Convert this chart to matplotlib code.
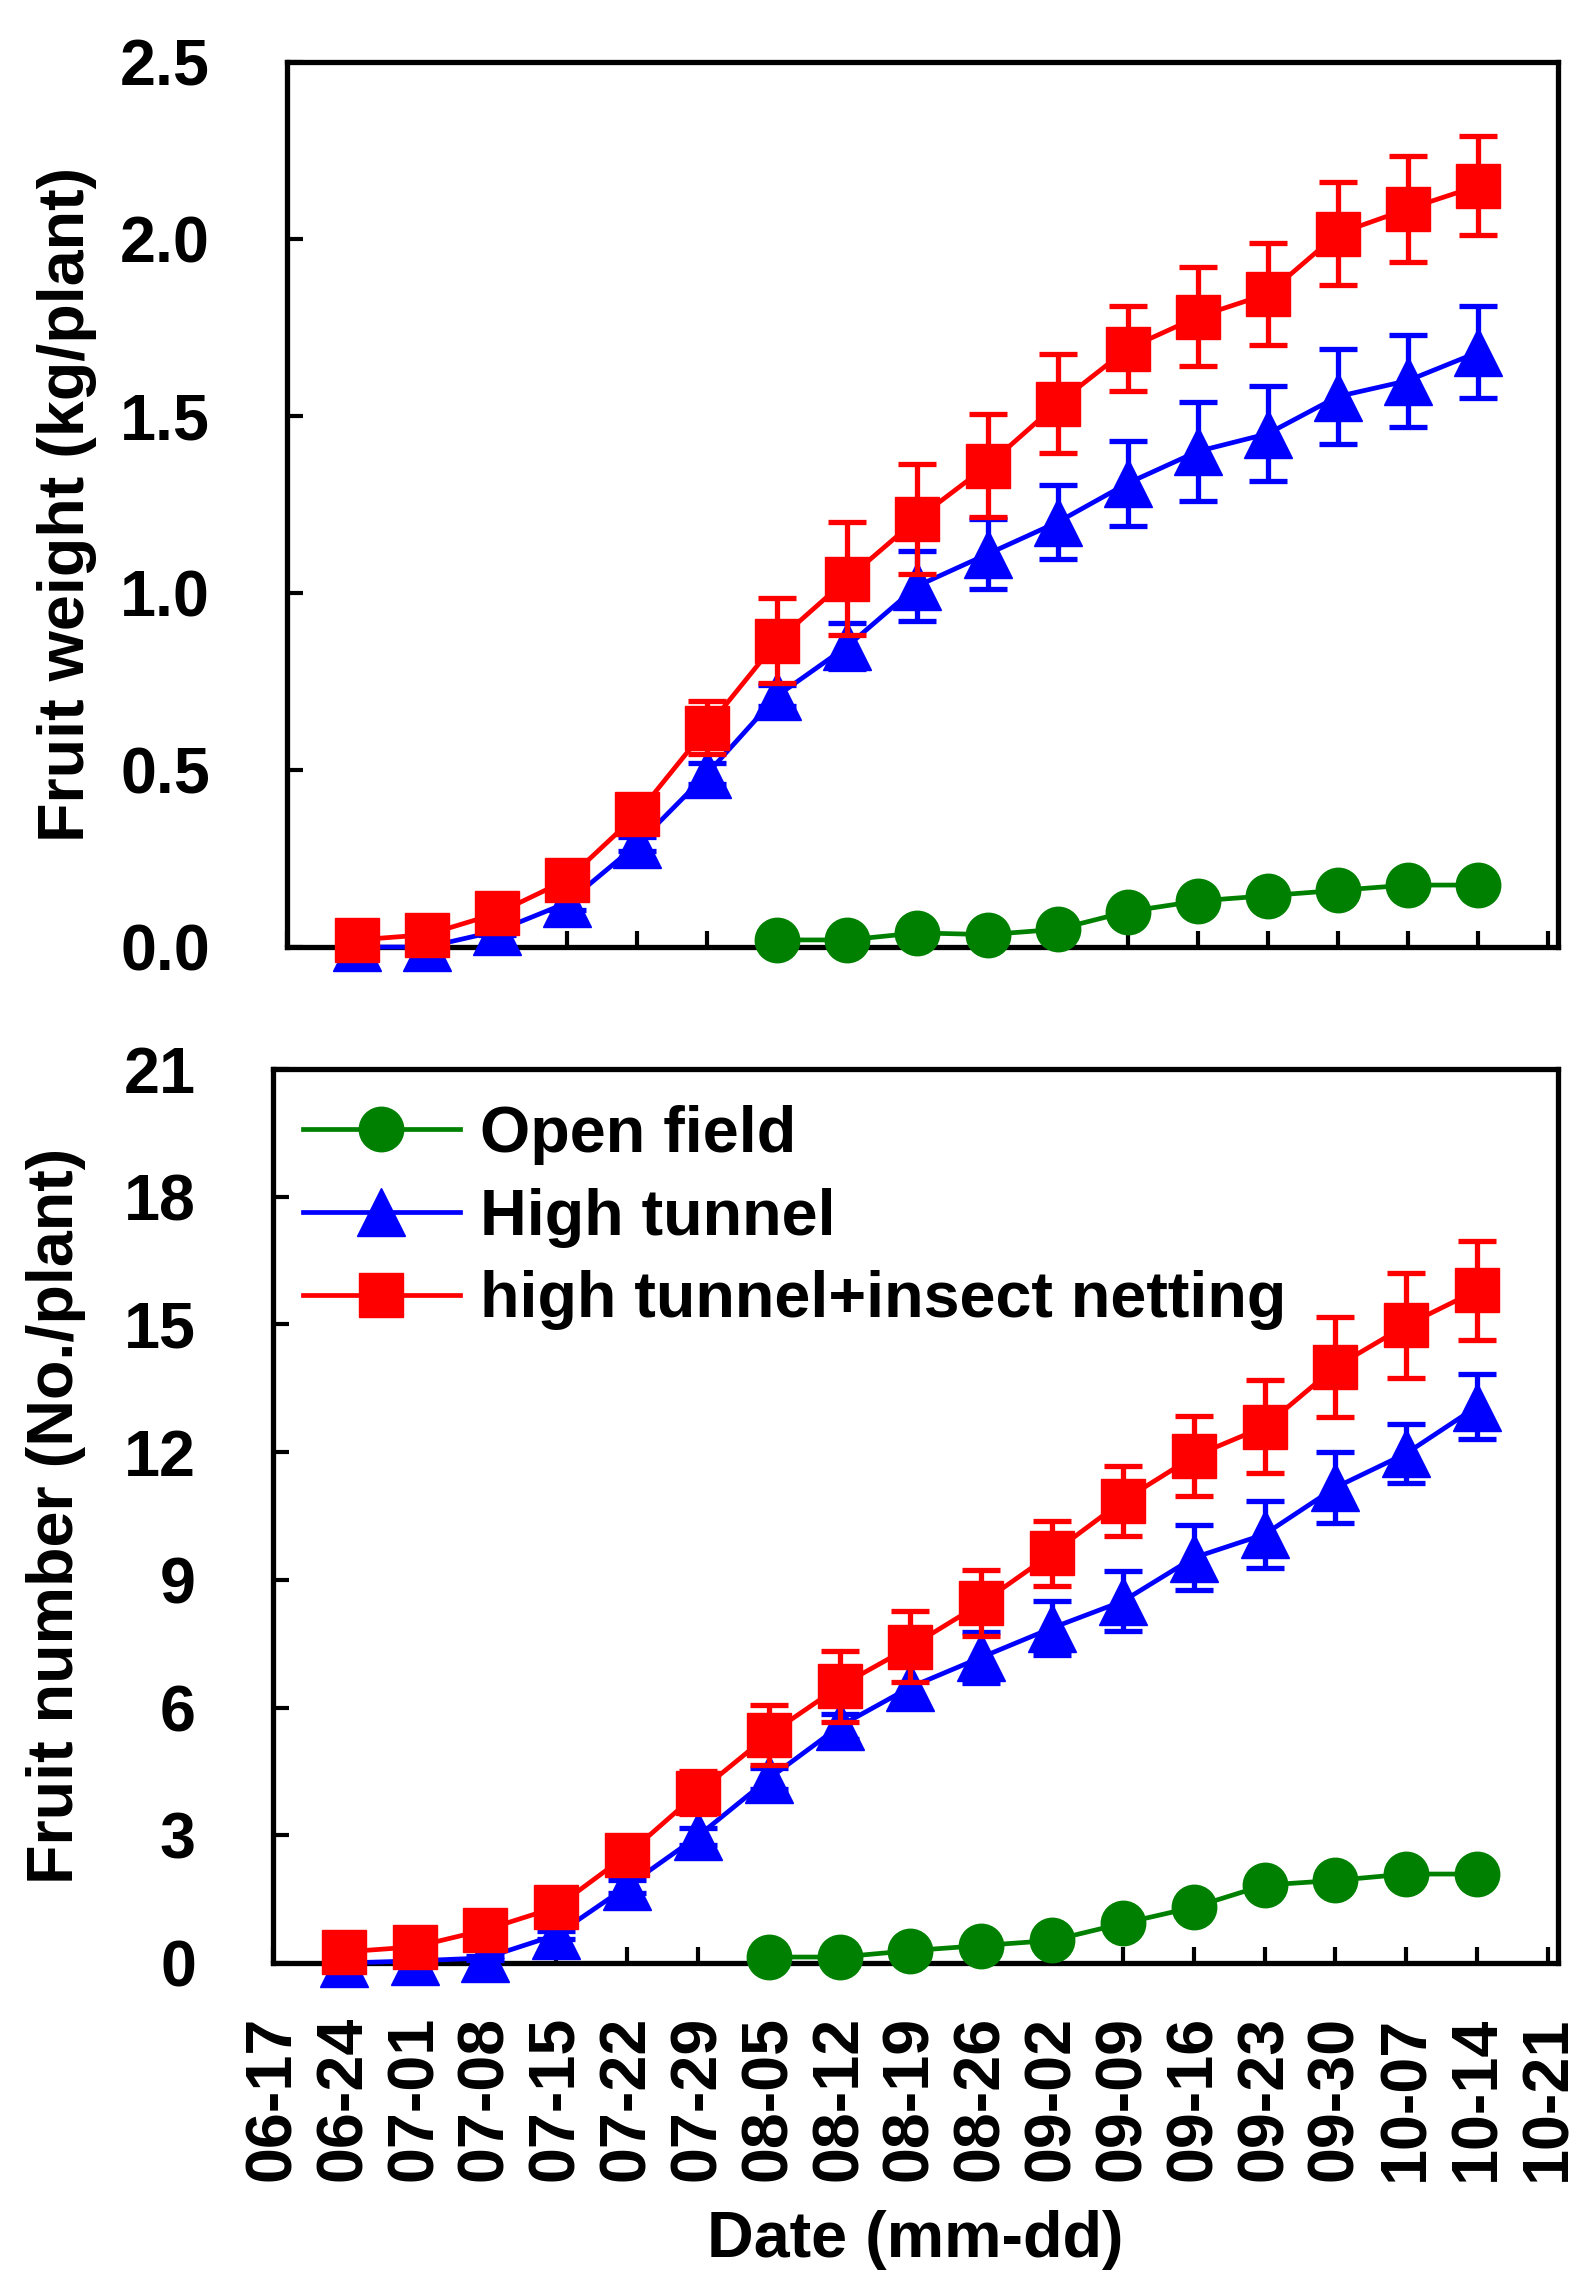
import numpy as np
import matplotlib
matplotlib.use('Agg')
import matplotlib.pyplot as plt
import pandas as pd

plt.rcParams['font.family'] = ['Liberation Sans', 'DejaVu Sans']
plt.rcParams['font.weight'] = 'bold'
plt.rcParams['axes.labelweight'] = 'bold'
plt.rcParams['font.size'] = 46.5

#Sampling dates (mm-dd), weekly
dates = ['06-24', '07-01', '07-08', '07-15', '07-22', '07-29', '08-05', '08-12', '08-19',
         '08-26', '09-02', '09-09', '09-16', '09-23', '09-30', '10-07', '10-14']
open_dates = dates[6:]
tick_labels = ['06-17'] + dates + ['10-21']

labellist = ['Open field', 'High tunnel', 'high tunnel+insect netting']
colorlist = ['green', 'blue', 'red']

#Fruit weight (kg/plant)
open_w = [0.02, 0.02, 0.04, 0.035, 0.05, 0.10, 0.13, 0.145, 0.16, 0.175, 0.175]
high_w = [0.0, 0.0, 0.045, 0.125, 0.29, 0.49, 0.71, 0.85, 1.02, 1.11, 1.20, 1.31,
          1.40, 1.45, 1.555, 1.60, 1.68]
high_w_err = [0.0, 0.0, 0.01, 0.02, 0.02, 0.03, 0.03, 0.065, 0.10, 0.10, 0.105, 0.12,
              0.14, 0.135, 0.135, 0.13, 0.13]
net_w = [0.02, 0.035, 0.095, 0.19, 0.375, 0.62, 0.865, 1.04, 1.21, 1.36, 1.535, 1.69,
         1.78, 1.845, 2.015, 2.085, 2.15]
net_w_err = [0.01, 0.01, 0.015, 0.02, 0.05, 0.075, 0.12, 0.16, 0.155, 0.145, 0.14, 0.12,
             0.14, 0.145, 0.145, 0.15, 0.14]

#Fruit number (No./plant)
open_n = [0.14, 0.14, 0.29, 0.41, 0.53, 0.93, 1.31, 1.83, 1.94, 2.09, 2.09]
high_n = [0.0, 0.05, 0.12, 0.66, 1.80, 2.98, 4.33, 5.56, 6.48, 7.18, 7.87, 8.50,
          9.52, 10.07, 11.17, 11.97, 13.07]
high_n_err = [0.0, 0.02, 0.05, 0.10, 0.15, 0.20, 0.25, 0.30, 0.50, 0.60, 0.64, 0.70,
              0.76, 0.79, 0.84, 0.70, 0.77]
net_n = [0.26, 0.38, 0.78, 1.31, 2.54, 4.0, 5.36, 6.5, 7.43, 8.45, 9.62, 10.86,
         11.9, 12.6, 14.0, 14.98, 15.8]
net_n_err = [0.05, 0.05, 0.10, 0.15, 0.25, 0.50, 0.70, 0.83, 0.84, 0.78, 0.76, 0.82,
             0.94, 1.09, 1.17, 1.23, 1.16]


def to_time(days):
    return pd.to_datetime(['2020-' + d for d in days])


x = to_time(dates)
x_open = to_time(open_dates)
x_ticks = to_time(tick_labels)

fig = plt.figure(figsize=(15.77, 22.74), dpi=100)
ax1 = fig.add_axes([0.18199, 0.58355, 0.80596, 0.38918])
ax2 = fig.add_axes([0.17311, 0.13676, 0.81484, 0.39314])

markers = ['o', '^', 's']
msizes = [32, 35, 31.5]


def draw_panel(ax, series, errs):
    xs = [x_open, x, x]
    for i in range(3):
        if errs[i] is not None:
            ax.errorbar(xs[i], series[i], yerr=errs[i], fmt='none', ecolor=colorlist[i],
                        elinewidth=3.8, capsize=13.5, capthick=3.8, zorder=2 + i,
                        clip_on=False)
        ax.plot(xs[i], series[i], color=colorlist[i], lw=3.4, marker=markers[i],
                ms=msizes[i], mec=colorlist[i], label=labellist[i], zorder=3 + i,
                clip_on=False)
    ax.set_xlim(pd.Timestamp('2020-06-17'), pd.Timestamp('2020-10-22'))
    ax.set_xticks(x_ticks)
    for s in ax.spines.values():
        s.set_linewidth(3.8)
    ax.tick_params(direction='in', length=11.5, width=3, top=False, right=False)
    ax.tick_params(axis='y', pad=55.5)
    ax.tick_params(axis='x', pad=38)


#Top panel: fruit weight
draw_panel(ax1, [open_w, high_w, net_w], [None, high_w_err, net_w_err])
ax1.set_ylim(0, 2.5)
ax1.set_yticks(np.arange(0, 2.51, 0.5))
ax1.set_yticklabels(['%.1f' % v for v in np.arange(0, 2.51, 0.5)])
ax1.set_xticklabels([])
ax1.set_ylabel('Fruit weight (kg/plant)', fontsize=46.5, fontweight='bold', va='baseline')
ax1.yaxis.set_label_coords(-0.1597, 0.5)

#Bottom panel: fruit number
draw_panel(ax2, [open_n, high_n, net_n], [None, high_n_err, net_n_err])
ax2.set_ylim(0, 21)
ax2.set_yticks(range(0, 22, 3))
ax2.set_xticklabels(tick_labels, rotation=90)
ax2.set_ylabel('Fruit number (No./plant)', fontsize=46.5, fontweight='bold', va='baseline')
ax2.yaxis.set_label_coords(-0.1556, 0.5)
ax2.set_xlabel('Date (mm-dd)', fontsize=46.5, fontweight='bold', va='baseline')
ax2.xaxis.set_label_coords(0.5, -0.3289)

leg = ax2.legend(loc='upper left', bbox_to_anchor=(0.0233, 0.9598), frameon=False,
                 numpoints=1, fontsize=46.5, borderpad=0, borderaxespad=0,
                 handlelength=2.43, handletextpad=0.31, labelspacing=0.35)

fig.savefig('out.png', dpi=100)
